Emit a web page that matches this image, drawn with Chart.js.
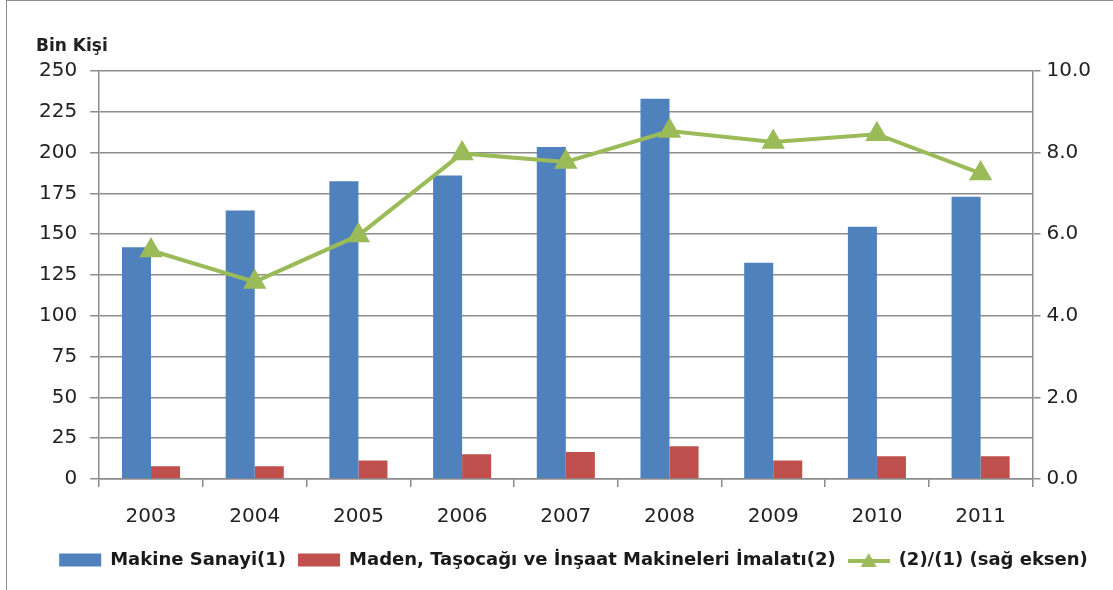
<!DOCTYPE html>
<html lang="tr">
<head>
<meta charset="utf-8">
<title>Makine Sanayi İstihdamı</title>
<script src="https://cdn.jsdelivr.net/npm/chart.js@4/dist/chart.umd.min.js"></script>
<style>
    html, body { margin: 0; padding: 0; background: #fff; }
    #wrap {
        position: relative;
        width: 1107px;
        height: 590px;
        box-sizing: border-box;
        border-left: 1px solid #8c8c8c;
        border-top: 1px solid #8c8c8c;
        margin-left: 6px;
    }
    #birim {
        position: absolute;
        left: 29px;
        top: 34px;
        font: bold 17px "DejaVu Sans", sans-serif;
        color: #222;
    }
</style>
</head>
<body>
<div id="wrap">
    <canvas id="istihdamChart" width="1106" height="589"></canvas>
    <div id="birim">Bin Kişi</div>
</div>
<script>
// yıllar
const yillar = ['2003', '2004', '2005', '2006', '2007', '2008', '2009', '2010', '2011'];

// bin kişi
const makineSanayi = [142, 164.5, 182.5, 186, 203.5, 233, 132.5, 154.5, 173];
const madenMakineleri = [7.8, 7.8, 11.4, 15.1, 16.5, 20, 11.4, 13.9, 13.9];

// oran (%), sağ eksen
const oran = [5.6, 4.83, 5.97, 7.98, 7.77, 8.53, 8.26, 8.45, 7.49];

const mavi = '#4f81bd';
const kirmizi = '#c0504d';
const yesil = '#9bbb59';
const gri = '#8c8c8c';
const yaziTipi = '"DejaVu Sans", sans-serif';

Chart.defaults.font.family = yaziTipi;
Chart.defaults.color = '#222';

// lejant için çizgi + üçgen işareti
function cizgiIsareti() {
    const c = document.createElement('canvas');
    c.width = 42;
    c.height = 18;
    const g = c.getContext('2d');
    g.strokeStyle = yesil;
    g.lineWidth = 4;
    g.beginPath();
    g.moveTo(0, 10);
    g.lineTo(42, 10);
    g.stroke();
    g.fillStyle = yesil;
    g.beginPath();
    g.moveTo(21, 2);
    g.lineTo(29, 16);
    g.lineTo(13, 16);
    g.closePath();
    g.fill();
    return c;
}
const lejantCizgi = cizgiIsareti();

// lejantı biraz sağa kaydır
const lejantKaydir = {
    id: 'lejantKaydir',
    afterLayout(chart) {
        if (chart.legend) {
            chart.legend.left += 12;
            chart.legend.right += 12;
        }
    }
};

const ctx = document.getElementById('istihdamChart').getContext('2d');

new Chart(ctx, {
    data: {
        labels: yillar,
        datasets: [
            {
                type: 'line',
                label: '(2)/(1) (sağ eksen)',
                data: oran,
                yAxisID: 'ySag',
                borderColor: yesil,
                backgroundColor: yesil,
                borderWidth: 4,
                pointStyle: 'triangle',
                pointRadius: 9.5,
                pointHoverRadius: 9.5,
                tension: 0,
                order: 0
            },
            {
                type: 'bar',
                label: 'Makine Sanayi(1)',
                data: makineSanayi,
                yAxisID: 'y',
                backgroundColor: mavi,
                categoryPercentage: 0.56,
                barPercentage: 1.0,
                order: 1
            },
            {
                type: 'bar',
                label: 'Maden, Taşocağı ve İnşaat Makineleri İmalatı(2)',
                data: madenMakineleri,
                yAxisID: 'y',
                backgroundColor: kirmizi,
                categoryPercentage: 0.56,
                barPercentage: 1.0,
                order: 2
            }
        ]
    },
    options: {
        responsive: false,
        animation: false,
        layout: {
            padding: { top: 70, left: 19, right: 16, bottom: 11 }
        },
        plugins: {
            legend: {
                position: 'bottom',
                labels: {
                    usePointStyle: true,
                    pointStyleWidth: 42,
                    boxHeight: 13,
                    padding: 12,
                    font: { size: 18, weight: 'bold' },
                    color: '#1a1a1a',
                    generateLabels: chart => {
                        const ogeler = Chart.defaults.plugins.legend.labels.generateLabels(chart);
                        ogeler.forEach(o => {
                            if (o.datasetIndex === 0) {
                                o.pointStyle = lejantCizgi;
                            } else {
                                o.pointStyle = 'rect';
                                o.lineWidth = 0;
                            }
                        });
                        const sira = [1, 2, 0];
                        return ogeler.sort((a, b) => sira.indexOf(a.datasetIndex) - sira.indexOf(b.datasetIndex));
                    }
                }
            },
            tooltip: { enabled: false }
        },
        scales: {
            x: {
                grid: {
                    offset: true,
                    drawOnChartArea: false,
                    tickLength: 8,
                    color: gri,
                    lineWidth: 1.5
                },
                border: { color: gri, width: 1.5 },
                ticks: { font: { size: 20 }, padding: 18 },
                // eksen yüksekliği sabit
                afterFit: olcek => { olcek.height = 60; }
            },
            y: {
                position: 'left',
                min: 0,
                max: 250,
                ticks: { stepSize: 25, font: { size: 20 }, padding: 13 },
                grid: { color: gri, lineWidth: 1.5, tickLength: 9 },
                border: { color: gri, width: 1.5 }
            },
            ySag: {
                position: 'right',
                min: 0,
                max: 10,
                ticks: {
                    stepSize: 2,
                    font: { size: 20 },
                    padding: 6,
                    callback: v => v.toFixed(1)
                },
                grid: { drawOnChartArea: false, color: gri, lineWidth: 1.5, tickLength: 8 },
                border: { color: gri, width: 1.5 }
            }
        }
    },
    plugins: [lejantKaydir]
});
</script>
</body>
</html>
